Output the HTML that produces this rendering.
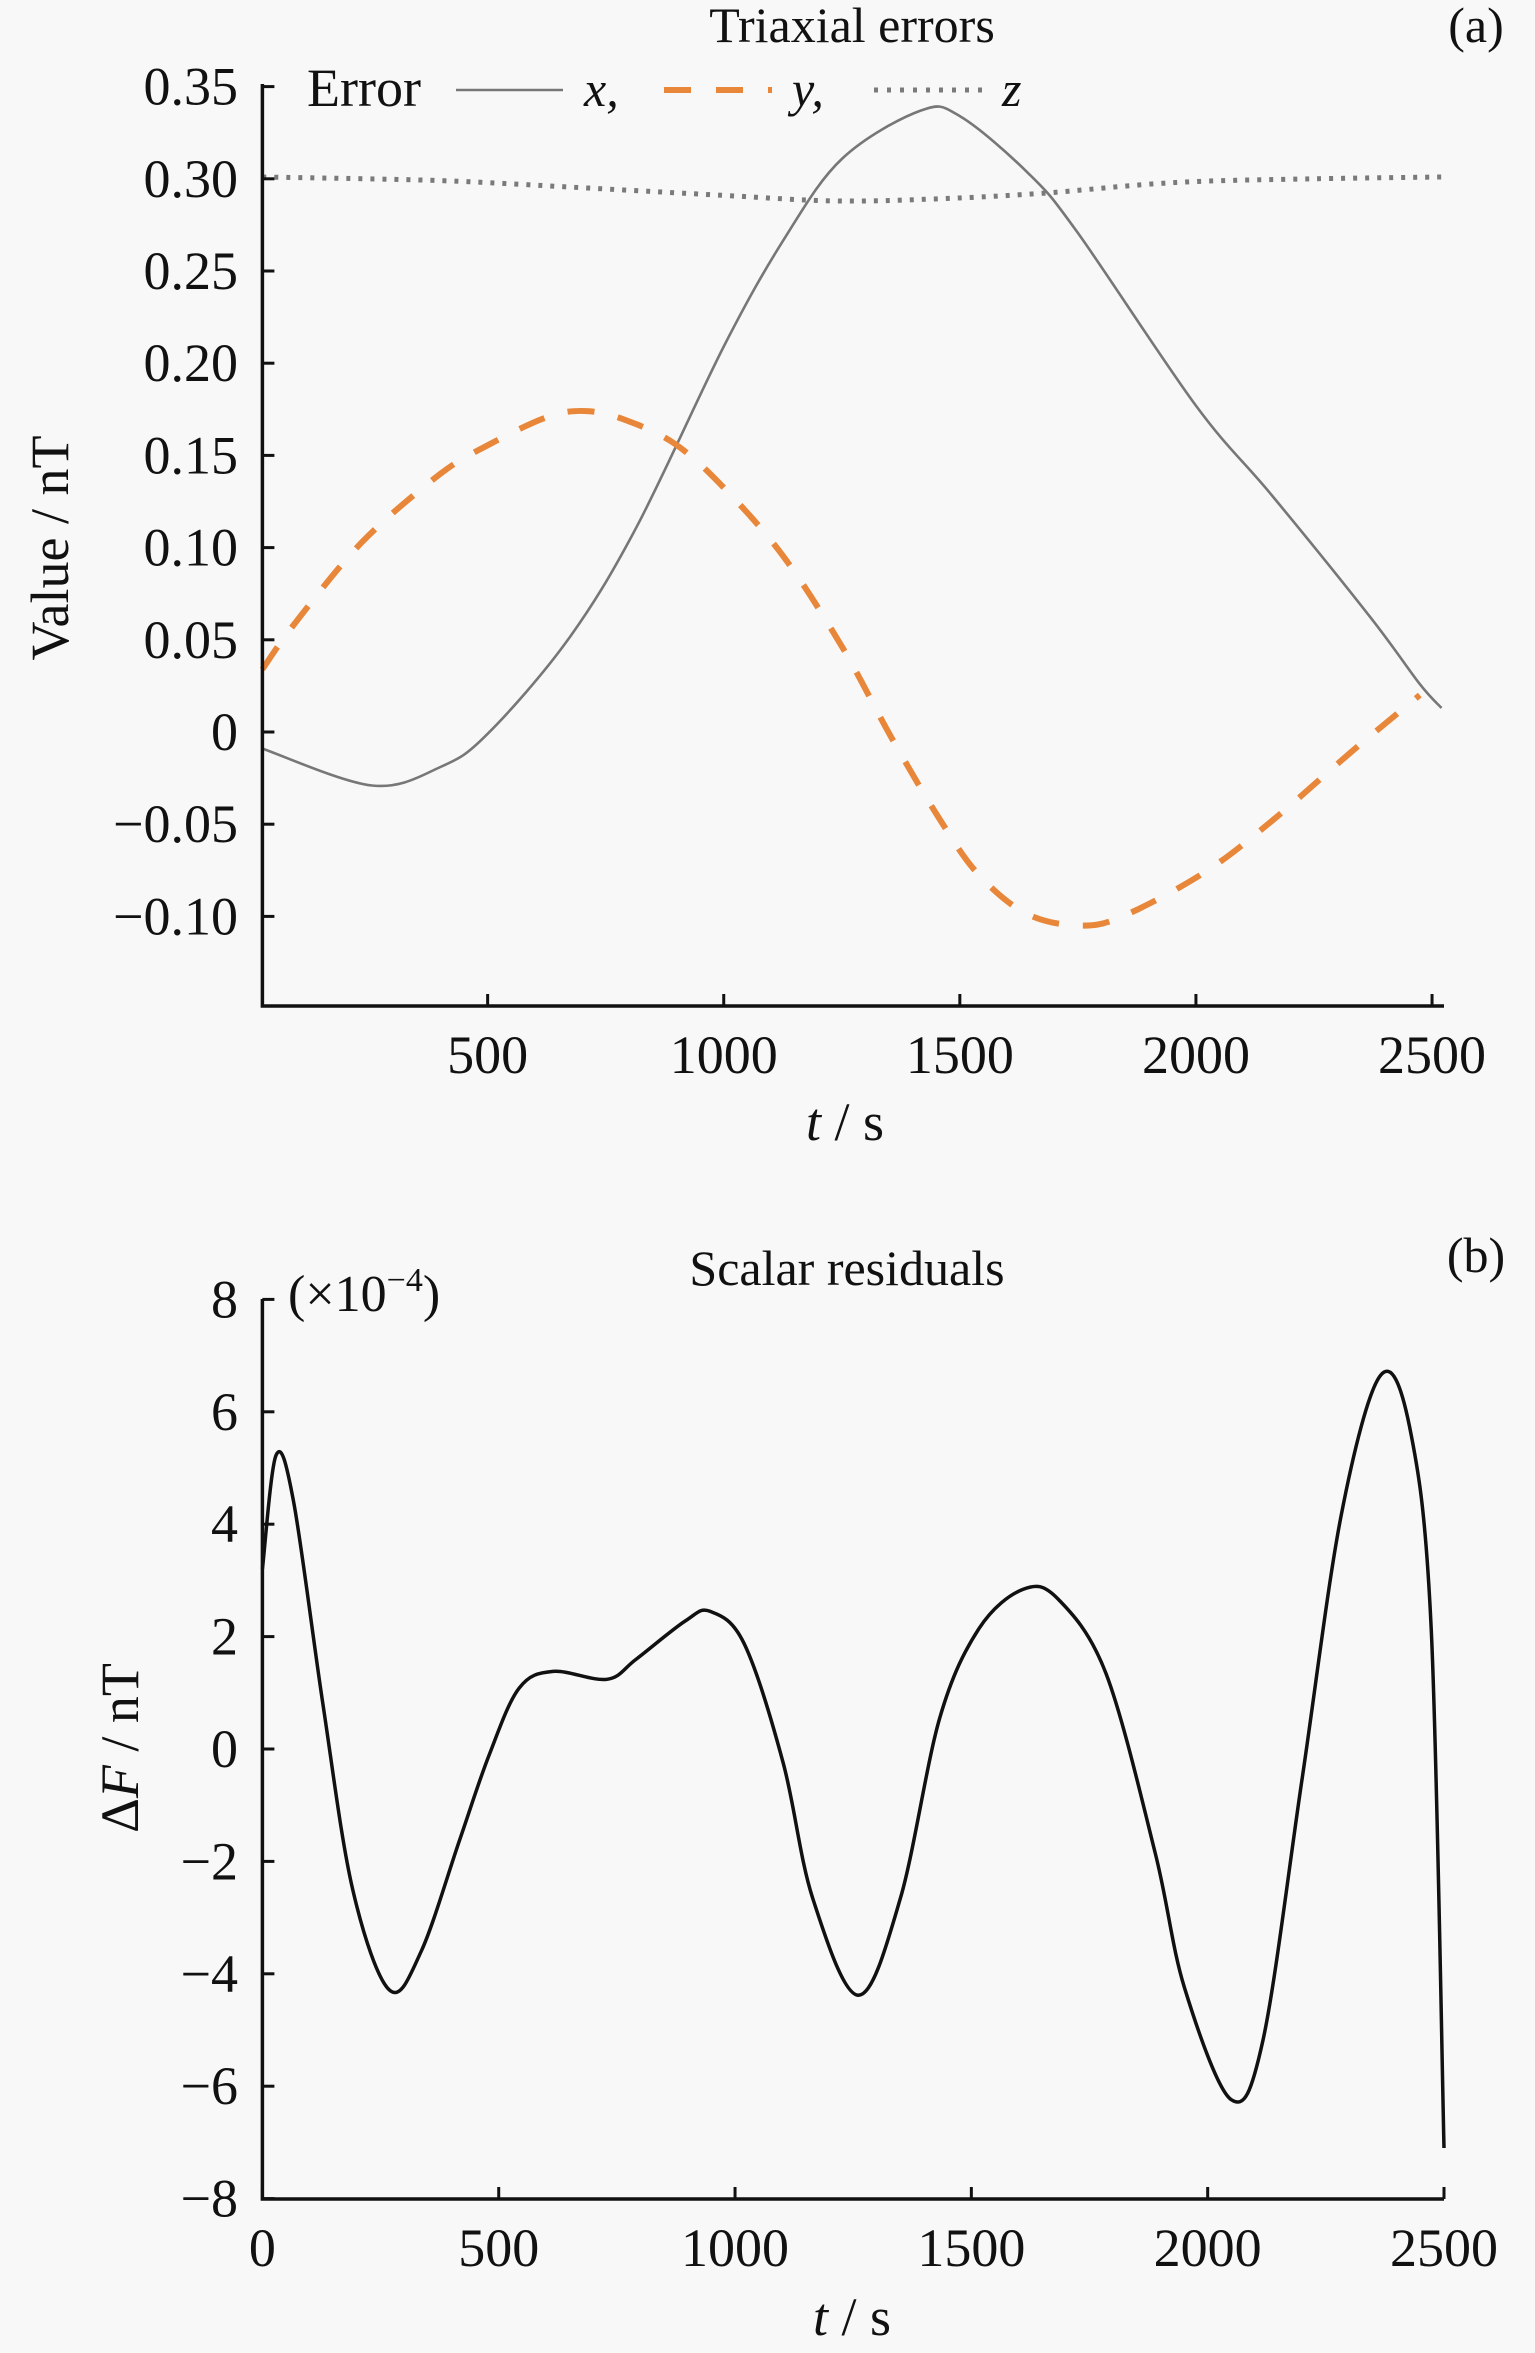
<!DOCTYPE html>
<html><head><meta charset="utf-8"><style>
html,body{margin:0;padding:0;background:#f8f8f8;}
svg{display:block;font-family:"Liberation Serif",serif;}
</style></head><body>
<svg id="fig" width="1535" height="2353" viewBox="0 0 1535 2353">
<rect width="1535" height="2353" fill="#f8f8f8"/>
<g id="pa"></g>
<g id="pb"></g>
</svg>
<script>
const NS="http://www.w3.org/2000/svg";
// Panel (a) data
const tX=[23,255,400,500,670,815,1000,1127,1251,1417,1500,1645,1749,2000,2162,2370,2474,2520];
const vX=[-0.009,-0.029,-0.019,-0.001,0.05,0.111,0.209,0.267,0.311,0.337,0.334,0.303,0.271,0.177,0.128,0.062,0.026,0.013];
const tY=[23,89,234,400,504,628,711,794,898,1002,1127,1251,1355,1459,1542,1645,1760,1853,2019,2162,2328,2474];
const vY=[0.034,0.058,0.103,0.140,0.156,0.171,0.174,0.169,0.156,0.132,0.095,0.046,-0.003,-0.048,-0.078,-0.099,-0.105,-0.099,-0.076,-0.048,-0.011,0.020];
const tZ=[23,400,711,1000,1230,1438,1666,1957,2250,2520];
const vZ=[0.301,0.299,0.295,0.291,0.288,0.289,0.292,0.298,0.300,0.301];
const aYTicks=[0.35,0.30,0.25,0.20,0.15,0.10,0.05,0,-0.05,-0.10];
const aYLabels=["0.35","0.30","0.25","0.20","0.15","0.10","0.05","0","\u22120.05","\u22120.10"];
const aXTicks=[500,1000,1500,2000,2500];
// Panel (b) data (x1e-4)
const tF=[0,29,66,128,191,269,336,418,480,543,615,729,791,895,947,1019,1102,1164,1261,1350,1433,1516,1609,1682,1785,1889,1951,2050,2117,2200,2282,2365,2427,2473,2500];
const vF=[3.2,5.23,4.4,0.8,-2.5,-4.29,-3.6,-1.6,-0.1,1.08,1.38,1.24,1.6,2.28,2.45,1.88,-0.25,-2.65,-4.38,-2.65,0.55,2.14,2.84,2.68,1.34,-1.85,-4.25,-6.24,-5.18,-0.52,4.14,6.64,5.74,2.14,-7.1];
const bYTicks=[8,6,4,2,0,-2,-4,-6,-8];
const bYLabels=["8","6","4","2","0","\u22122","\u22124","\u22126","\u22128"];
const bXTicks=[0,500,1000,1500,2000,2500];

function el(tag,attrs,parent,text){const e=document.createElementNS(NS,tag);for(const k in attrs)e.setAttribute(k,attrs[k]);if(text!==undefined)e.textContent=text;parent.appendChild(e);return e;}
function smooth(pts){let d="M"+pts[0][0].toFixed(1)+","+pts[0][1].toFixed(1);
 for(let i=0;i<pts.length-1;i++){const p0=pts[Math.max(0,i-1)],p1=pts[i],p2=pts[i+1],p3=pts[Math.min(pts.length-1,i+2)];
 const c1=[p1[0]+(p2[0]-p0[0])/6,p1[1]+(p2[1]-p0[1])/6],c2=[p2[0]-(p3[0]-p1[0])/6,p2[1]-(p3[1]-p1[1])/6];
 d+=" C"+c1[0].toFixed(1)+","+c1[1].toFixed(1)+" "+c2[0].toFixed(1)+","+c2[1].toFixed(1)+" "+p2[0].toFixed(1)+","+p2[1].toFixed(1);}return d;}

// Panel a
const A=document.getElementById('pa');
const ax=t=>262.4+(t-23)*236.1/500;
const ay=v=>732-v*92.2/0.05;
const aL=262.4,aB=1006,aT=84,aR=1444;
let e;
e=el('path',{d:smooth(tZ.map((t,i)=>[ax(t),ay(vZ[i])])),fill:"none",stroke:"#7a7a7a","stroke-width":5,"stroke-dasharray":"4 8"},A);

e=el('path',{d:smooth(tX.map((t,i)=>[ax(t),ay(vX[i])])),fill:"none",stroke:"#777","stroke-width":2.6},A);

e=el('path',{d:smooth(tY.map((t,i)=>[ax(t),ay(vY[i])])),fill:"none",stroke:"#e8873a","stroke-width":6,"stroke-dasharray":"27 24"},A);

e=el('path',{d:`M${aL},${aT}V${aB}H${aR}`,fill:"none",stroke:"#111","stroke-width":3.5},A);

aYTicks.forEach((v,i)=>{const y=ay(v);
 e=el('line',{x1:aL,x2:aL+12,y1:y,y2:y,stroke:"#111","stroke-width":3},A);
 
 e=el('text',{x:238,y:y+18,"text-anchor":"end","font-size":54,fill:"#111"},A,aYLabels[i]);
 });
aXTicks.forEach(t=>{const x=ax(t);
 e=el('line',{x1:x,x2:x,y1:aB,y2:aB-12,stroke:"#111","stroke-width":3},A);
 
 e=el('text',{x:x,y:1073,"text-anchor":"middle","font-size":54,fill:"#111"},A,String(t));
 });
e=el('text',{x:852,y:42,"text-anchor":"middle","font-size":50,fill:"#111"},A,"Triaxial errors");

e=el('text',{x:1476,y:42,"text-anchor":"middle","font-size":50,fill:"#111"},A,"(a)");

e=el('text',{x:0,y:0,"text-anchor":"middle","font-size":54,fill:"#111",transform:"translate(68,548) rotate(-90)"},A,"Value / nT");

e=el('text',{x:845,y:1140,"text-anchor":"middle","font-size":54,fill:"#111"},A);
e.innerHTML='<tspan font-style="italic">t</tspan> / s';

// legend
const L=el('g',{},A);
el('text',{x:307,y:106,"font-size":54,fill:"#111"},L,"Error");
el('line',{x1:456,x2:563,y1:90,y2:90,stroke:"#777","stroke-width":2.6},L);
el('text',{x:584,y:106,"font-size":50,fill:"#111","font-style":"italic"},L,"x,");
el('line',{x1:664,x2:772,y1:90,y2:90,stroke:"#e8873a","stroke-width":6,"stroke-dasharray":"27 25"},L);
el('text',{x:792,y:106,"font-size":50,fill:"#111","font-style":"italic"},L,"y,");
el('line',{x1:874,x2:984,y1:90,y2:90,stroke:"#7a7a7a","stroke-width":5,"stroke-dasharray":"4 9"},L);
el('text',{x:1002,y:106,"font-size":50,fill:"#111","font-style":"italic"},L,"z");

// Panel b
const B=document.getElementById('pb');
const bx=t=>262.4+t*(1444-262.4)/2500;
const by=v=>1749-v*112.4/2;
const bL=262.4,bB=2199,bT=1299,bR=1444;
e=el('path',{d:smooth(tF.map((t,i)=>[bx(t),by(vF[i])])),fill:"none",stroke:"#111","stroke-width":3.5},B);

e=el('path',{d:`M${bL},${bT}V${bB}H${bR}`,fill:"none",stroke:"#111","stroke-width":3.5},B);

bYTicks.forEach((v,i)=>{const y=by(v);
 e=el('line',{x1:bL,x2:bL+12,y1:y,y2:y,stroke:"#111","stroke-width":3},B);
 
 e=el('text',{x:238,y:y+18,"text-anchor":"end","font-size":54,fill:"#111"},B,bYLabels[i]);
 });
bXTicks.forEach(t=>{const x=bx(t);
 e=el('line',{x1:x,x2:x,y1:bB,y2:bB-12,stroke:"#111","stroke-width":3},B);
 
 e=el('text',{x:x,y:2266,"text-anchor":"middle","font-size":54,fill:"#111"},B,String(t));
 });
e=el('text',{x:847,y:1285,"text-anchor":"middle","font-size":50,fill:"#111"},B,"Scalar residuals");

e=el('text',{x:1476,y:1272,"text-anchor":"middle","font-size":50,fill:"#111"},B,"(b)");

e=el('text',{x:288,y:1311,"font-size":52,fill:"#111"},B);
e.innerHTML='(×10<tspan dy="-20" font-size="34">\u22124</tspan><tspan dy="20">)</tspan>';

e=el('text',{x:0,y:0,"text-anchor":"middle","font-size":54,fill:"#111",transform:"translate(138,1748) rotate(-90)"},B);
e.innerHTML='Δ<tspan font-style="italic">F</tspan> / nT';

e=el('text',{x:852,y:2335,"text-anchor":"middle","font-size":54,fill:"#111"},B);
e.innerHTML='<tspan font-style="italic">t</tspan> / s';

</script>
</body></html>
